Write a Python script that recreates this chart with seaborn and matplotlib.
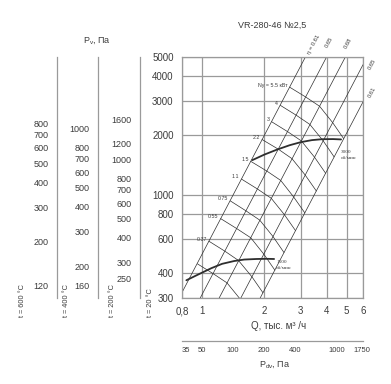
import matplotlib
matplotlib.use("Agg")
from matplotlib import pyplot as plt
from matplotlib.ticker import FixedLocator, NullLocator, NullFormatter
import seaborn as sns
import pandas as pd

# fan curves, Q in thousand m3/h, P in Pa (t = 20 C)
q_3000 = [1.75, 2.0, 2.3, 2.65, 3.0, 3.4, 3.8, 4.3, 4.7]
p_3000 = [1500, 1600, 1695, 1785, 1850, 1895, 1915, 1918, 1910]
q_1500 = [0.84, 0.95, 1.11, 1.25, 1.43, 1.6, 1.83, 2.05, 2.23]
p_1500 = [369, 393, 425, 447, 462, 470, 473, 474, 473]

# efficiency lines, two end points each
eta_labels = ["η = 0.61", "0.65", "0.68", "0.65", "0.61"]
eta_q = [[0.8, 3.16], [0.98, 4.0], [1.21, 4.93], [1.54, 6.0], [1.91, 6.0]]
eta_p = [[320, 5000], [300, 5000], [300, 5000], [300, 4570], [300, 2960]]

# motor power lines, nodes where they cross the efficiency lines
n_labels = ["Nу = 5.5 кВт", "4", "3", "2.2", "1.5", "1.1", "0.75", "0.55", "0.37", ""]
n_q = [[2.65, 3.17, 3.70, 4.28, 4.84],
       [2.39, 2.85, 3.32, 3.85, 4.35],
       [2.17, 2.59, 3.02, 3.50, 3.96],
       [1.95, 2.34, 2.72, 3.15, 3.57],
       [1.72, 2.06, 2.40, 2.77, 3.14],
       [1.55, 1.85, 2.16, 2.50, 2.83],
       [1.37, 1.63, 1.90, 2.20, 2.49],
       [1.23, 1.47, 1.72, 1.99, 2.25],
       [1.08, 1.29, 1.50, 1.74, 1.97],
       [0.95, 1.13, 1.32, 1.53, 1.73]]
n_p = [[3517, 3135, 2814, 2324, 1927],
       [2844, 2536, 2276, 1880, 1558],
       [2348, 2093, 1878, 1551, 1286],
       [1909, 1703, 1527, 1262, 1046],
       [1479, 1319, 1184, 977, 810],
       [1203, 1072, 961, 794, 659],
       [932, 830, 745, 616, 510],
       [758, 675, 606, 500, 415],
       [582, 518, 465, 385, 319],
       [447, 399, 358, 296, 245]]

q_ticks = [0.8, 1, 2, 3, 4, 5, 6]
q_tick_labels = ["0,8", "1", "2", "3", "4", "5", "6"]
p_ticks = [300, 400, 600, 800, 1000, 2000, 3000, 4000, 5000]

# dynamic pressure scale
dv_ticks = [35, 50, 70, 100, 150, 200, 300, 400, 600, 800, 1000, 1250, 1500, 1750]
dv_labels = [35, 50, 100, 200, 400, 1000, 1750]

# pressure scales for hot air, factor against the 20 C scale
scale_t = ["600", "400", "200"]
scale_k = [0.346, 0.46, 0.66]
scale_major = [[800, 700, 600, 500, 400, 300, 200, 120],
               [1000, 800, 700, 600, 500, 400, 300, 200, 160],
               [1600, 1200, 1000, 800, 700, 600, 500, 400, 300, 250]]
scale_minor = [[650, 550, 180, 160, 140], [900, 250, 180], [1400, 900, 350]]

sns.set_style("white")
plt.rcParams['font.family'] = ['Liberation Sans', 'DejaVu Sans']
plt.rcParams['mathtext.fontset'] = 'custom'
plt.rcParams['mathtext.rm'] = 'Liberation Sans'
plt.rcParams['mathtext.it'] = 'Liberation Sans'

TXT = '#3c3c3c'
LINE = '#2e2e2e'
GRID = '#9a9a9a'
W, H = 391, 384


def rect(x0, y0, x1, y1):
	return [x0 / W, 1 - y1 / H, (x1 - x0) / W, (y1 - y0) / H]


fig = plt.figure(figsize=(W / 100, H / 100), dpi=100)
ax = fig.add_axes(rect(182, 57, 363, 298))

eta_df = pd.DataFrame({
	"Q": [q for qs in eta_q for q in qs],
	"P": [p for ps in eta_p for p in ps],
	"line": [i for i, qs in enumerate(eta_q) for _ in qs]})
sns.lineplot(data=eta_df, x="Q", y="P", units="line", estimator=None, sort=False,
			 color=LINE, lw=0.5, ax=ax)

n_df = pd.DataFrame({
	"Q": [q for qs in n_q for q in qs],
	"P": [p for ps in n_p for p in ps],
	"line": [i for i, qs in enumerate(n_q) for _ in qs]})
sns.lineplot(data=n_df, x="Q", y="P", units="line", estimator=None, sort=False,
			 color=LINE, lw=0.5, ax=ax)

sns.lineplot(x=q_3000, y=p_3000, color=LINE, lw=1.3, ax=ax, zorder=5)
sns.lineplot(x=q_1500, y=p_1500, color=LINE, lw=1.3, ax=ax, zorder=5)

ax.set_xscale("log")
ax.set_yscale("log")
ax.set_xlim(0.8, 6)
ax.set_ylim(300, 5000)
ax.xaxis.set_major_locator(FixedLocator(q_ticks))
ax.xaxis.set_minor_locator(NullLocator())
ax.set_xticklabels(q_tick_labels)
ax.yaxis.set_major_locator(FixedLocator(p_ticks))
ax.yaxis.set_minor_locator(NullLocator())
ax.set_yticklabels([str(p) for p in p_ticks])
ax.grid(True, which="major", color=GRID, lw=0.9)
ax.tick_params(axis="x", length=0, pad=6, labelsize=7, colors=TXT)
ax.tick_params(axis="y", length=4, width=0.8, color=GRID, pad=2, labelsize=7, labelcolor=TXT)
ax.set(xlabel=None, ylabel=None)
for s in ax.spines.values():
	s.set_color(GRID)
	s.set_linewidth(0.9)

# labels of the power lines
for lab, qs, ps in zip(n_labels, n_q, n_p):
	if lab:
		ax.annotate(lab, xy=(qs[0], ps[0]), xytext=(-1.5, 1.5), textcoords="offset points",
					ha="right", va="center", fontsize=3.8, color=TXT)

# labels of efficiency lines
eta_pos = [(3.46, 5824), (4.13, 5960), (5.09, 5900), (6.63, 4611), (6.63, 3323)]
for lab, (x, y) in zip(eta_labels, eta_pos):
	ax.text(x, y, lab, rotation=62, ha="center", va="center", fontsize=4.2,
			color=TXT, clip_on=False)

ax.text(4.66, 1600, "3000\nоб/мин", ha="left", va="center", fontsize=3.8,
		color=TXT, linespacing=1.6, family="Liberation Serif")
ax.text(2.28, 441, "1500\nоб/мин", ha="left", va="center", fontsize=3.8,
		color=TXT, linespacing=1.6, family="Liberation Serif")

# dynamic pressure axis
ax_dv = fig.add_axes(rect(182, 320, 363, 341))
ax_dv.set_xscale("log")
ax_dv.set_xlim(32, 1800)
ax_dv.xaxis.set_major_locator(FixedLocator(dv_ticks))
ax_dv.xaxis.set_minor_locator(NullLocator())
ax_dv.set_xticklabels([str(t) if t in dv_labels else "" for t in dv_ticks])
ax_dv.set_yticks([])
for side in ["left", "right", "top"]:
	ax_dv.spines[side].set_visible(False)
ax_dv.spines["bottom"].set_color(GRID)
ax_dv.spines["bottom"].set_linewidth(0.9)
ax_dv.tick_params(axis="x", direction="in", length=3.5, width=0.8, color=GRID,
				  pad=4, labelsize=5.5, labelcolor=TXT)
ax_dv.patch.set_alpha(0)

# pressure scales for other temperatures
for x_px, k, major, minor in zip([57, 98, 140], scale_k, scale_major, scale_minor):
	a = fig.add_axes(rect(x_px, 57, x_px + 1, 298))
	a.set_yscale("log")
	a.set_ylim(300 * k, 5000 * k)
	a.yaxis.set_major_locator(FixedLocator(major))
	a.set_yticklabels([str(v) for v in major])
	a.yaxis.set_minor_locator(FixedLocator(minor))
	a.yaxis.set_minor_formatter(NullFormatter())
	a.set_xticks([])
	for side in ["right", "top", "bottom"]:
		a.spines[side].set_visible(False)
	a.spines["left"].set_color(GRID)
	a.spines["left"].set_linewidth(0.9)
	a.tick_params(axis="y", which="both", length=4, width=0.8, color=GRID, pad=2,
				  labelsize=6.5, labelcolor=TXT)
	a.patch.set_alpha(0)

for x_px, t in zip([23, 67, 112, 150], scale_t + ["20"]):
	fig.text(x_px / W, 1 - 317 / H, "t = " + t + " °C", rotation=90, ha="center",
			 va="bottom", fontsize=5.3, color=TXT)

fig.text(97 / W, 1 - 40 / H, "P$_{\\mathregular{v}}$, Па", ha="center", va="center",
		 fontsize=6.5, color=TXT)
fig.text(272 / W, 1 - 25 / H, "VR-280-46 №2,5", ha="center", va="center",
		 fontsize=6.5, color=TXT)
fig.text(279 / W, 1 - 326 / H, "Q, тыс. м³ /ч", ha="center", va="center",
		 fontsize=7, color=TXT)
fig.text(275 / W, 1 - 365 / H, "P$_{\\mathregular{dv}}$, Па", ha="center", va="center",
		 fontsize=6.5, color=TXT)

plt.savefig("out.png", dpi=100)
